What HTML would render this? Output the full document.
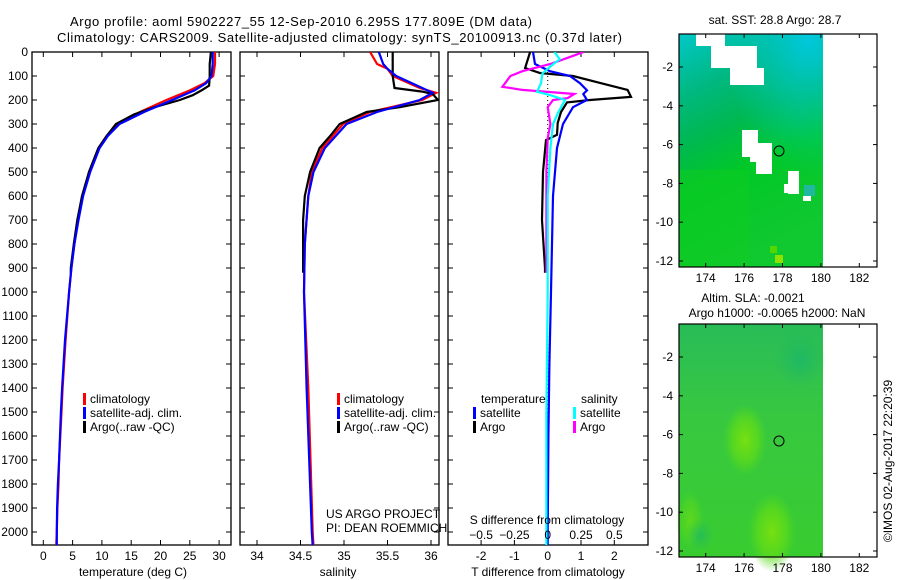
<!DOCTYPE html>
<html><head><meta charset="utf-8">
<style>
html,body{margin:0;padding:0;background:#fff;}
svg{display:block;font-family:"Liberation Sans",Arial,sans-serif;}
text{fill:#000;}
</style></head>
<body>
<svg id="chart" width="900" height="580" viewBox="0 0 900 580" xmlns="http://www.w3.org/2000/svg">
<defs>
<linearGradient id="sstGrad" x1="0" y1="0" x2="0.3" y2="1">
<stop offset="0" stop-color="#00c8c8"/>
<stop offset="0.25" stop-color="#00b880"/>
<stop offset="0.45" stop-color="#00b850"/>
<stop offset="0.65" stop-color="#00c828"/>
<stop offset="1" stop-color="#10c830"/>
</linearGradient>
<radialGradient id="sstTopRight" cx="0.9" cy="0" r="0.6">
<stop offset="0" stop-color="#00c8e0"/>
<stop offset="1" stop-color="#00c8c0" stop-opacity="0"/>
</radialGradient>
<linearGradient id="slaGrad" x1="0" y1="0" x2="0" y2="1">
<stop offset="0" stop-color="#28bc58"/>
<stop offset="0.4" stop-color="#38c840"/>
<stop offset="1" stop-color="#38cc30"/>
</linearGradient>
<radialGradient id="slaHi1" cx="0.5" cy="0.5" r="0.5">
<stop offset="0" stop-color="#78e010"/>
<stop offset="0.6" stop-color="#60dc18" stop-opacity="0.7"/>
<stop offset="1" stop-color="#50d820" stop-opacity="0"/>
</radialGradient>
<radialGradient id="slaLo" cx="0.5" cy="0.5" r="0.5">
<stop offset="0" stop-color="#18b470"/>
<stop offset="1" stop-color="#20b860" stop-opacity="0"/>
</radialGradient>
<clipPath id="clipP1"><rect x="32" y="52" width="199" height="493"/></clipPath>
<clipPath id="clipP2"><rect x="240" y="52" width="199" height="493"/></clipPath>
<clipPath id="clipP3"><rect x="448" y="52" width="200" height="493"/></clipPath>
</defs>

<text x="70" y="26" font-size="13" textLength="462">Argo profile: aoml 5902227_55 12-Sep-2010 6.295S 177.809E (DM data)</text>
<text x="57" y="42" font-size="13" textLength="565">Climatology: CARS2009. Satellite-adjusted climatology: synTS_20100913.nc (0.37d later)</text>

<g id="panels"></g>

<g>
<text x="775" y="24" font-size="12" text-anchor="middle">sat. SST: 28.8 Argo: 28.7</text>
<rect x="679" y="34" width="144" height="233" fill="url(#sstGrad)"/>
<rect x="679" y="34" width="144" height="233" fill="url(#sstTopRight)"/>
<rect x="679" y="170" width="70" height="97" fill="#10cc20" opacity="0.5"/>
<rect x="775" y="255" width="8" height="8" fill="#90e000"/>
<rect x="770" y="246" width="7" height="7" fill="#50d800"/>
<g fill="#fff">
<rect x="696" y="34" width="20" height="12"/>
<rect x="711" y="34" width="14" height="34"/>
<rect x="725" y="46" width="32" height="22"/>
<rect x="730" y="68" width="34" height="17"/>
<rect x="742" y="130" width="16" height="27"/>
<rect x="750" y="143" width="22" height="19"/>
<rect x="756" y="162" width="16" height="12"/>
<rect x="788" y="171" width="11" height="23"/>
<rect x="784" y="184" width="8" height="9"/>
<rect x="803" y="196" width="8" height="5"/>
</g>
<rect x="804" y="185" width="11" height="11" fill="#20b8a0"/>
<circle cx="779" cy="151" r="5" fill="none" stroke="#000" stroke-width="1"/>
</g>

<g>
<text x="753" y="302" font-size="12" text-anchor="middle">Altim. SLA: -0.0021</text>
<text x="777" y="317" font-size="12" text-anchor="middle">Argo h1000: -0.0065 h2000: NaN</text>
<rect x="679" y="324" width="144" height="233" fill="url(#slaGrad)"/>
<ellipse cx="745" cy="440" rx="22" ry="36" fill="url(#slaHi1)"/>
<ellipse cx="772" cy="532" rx="24" ry="40" fill="url(#slaHi1)"/>
<ellipse cx="690" cy="520" rx="14" ry="30" fill="url(#slaHi1)" opacity="0.6"/>
<ellipse cx="800" cy="360" rx="26" ry="28" fill="url(#slaLo)" opacity="0.7"/>
<ellipse cx="700" cy="535" rx="14" ry="16" fill="url(#slaLo)" opacity="0.6"/>
<circle cx="779" cy="441" r="5" fill="none" stroke="#000" stroke-width="1"/>
</g>
<g id="maps"></g>

<text transform="translate(892,461) rotate(-90)" font-size="12" text-anchor="middle">©IMOS 02-Aug-2017 22:20:39</text>

<script>
const depthTicks = [0,100,200,300,400,500,600,700,800,900,1000,1100,1200,1300,1400,1500,1600,1700,1800,1900,2000];

const tempDepthClim = [0,50,100,130,160,200,250,300,350,400,500,600,700,800,900,1000,1200,1400,1500,1600,1700,1800,1900,2000,2060];
const tempClim      = [29.3,29.3,29.0,27.5,25.0,21.0,16.5,12.6,10.8,9.4,7.8,6.7,5.9,5.3,4.8,4.4,3.8,3.3,3.1,2.9,2.7,2.6,2.4,2.3,2.2];
const tempSat       = [28.9,28.9,28.7,27.8,25.8,22.0,17.2,13.0,11.0,9.6,8.0,6.8,6.0,5.3,4.8,4.4,3.7,3.2,3.0,2.85,2.7,2.5,2.35,2.3,2.3];
const tempDepthArgo = [0,50,100,140,160,180,200,230,260,300,350,400,500,600,700,800,900,920];
const tempArgo      = [28.6,28.4,28.4,28.3,27.0,25.5,23.3,19.0,15.5,12.4,10.8,9.4,7.8,6.6,5.8,5.2,4.7,4.7];

const salDepthClim = [0,50,70,100,150,170,200,250,300,400,500,600,800,1000,1400,2000,2060];
const salClim      = [35.3,35.38,35.5,35.56,35.87,36.06,35.9,35.3,34.99,34.75,34.63,34.59,34.55,34.54,34.59,34.64,34.65];
const salSat       = [35.4,35.45,35.5,35.6,35.9,36.02,35.87,35.38,35.03,34.78,34.65,34.59,34.55,34.54,34.57,34.63,34.64];
const salDepthArgo = [0,50,100,150,165,175,200,230,250,300,350,400,500,600,700,800,900,920];
const salArgo      = [35.56,35.56,35.56,35.58,35.9,36.02,36.08,35.64,35.26,34.95,34.84,34.72,34.61,34.55,34.53,34.53,34.53,34.53];

const dTDepthArgo = [0,67,88,100,130,158,187,200,210,250,296,345,367,500,700,900,920];
const dTArgo      = [-0.53,-0.68,-0.23,0.76,1.6,2.4,2.5,1.27,0.58,0.4,0.3,0.28,-0.05,-0.14,-0.17,-0.08,-0.08];
const dTDepthSat  = [0,50,80,100,130,160,175,200,230,300,400,600,800,1000,1300,1600,2000,2060];
const dTSat       = [-0.44,-0.38,0.07,0.67,0.97,1.18,1.07,1.18,0.76,0.46,0.28,0.16,0.13,0.1,0.05,0.02,0.0,0.0];
const dSDepthArgo = [0,20,50,80,100,145,158,175,192,200,230,300,360,500,700,900,920];
const dSArgo      = [0.27,0.17,0.02,-0.19,-0.28,-0.34,-0.19,0.2,0.15,0.04,0.0,0.02,0.0,-0.01,-0.01,-0.01,-0.01];
const dSDepthSat  = [0,30,60,90,130,166,180,200,250,300,400,600,1000,1500,2060];
const dSSat       = [0.05,0.09,0.02,-0.04,-0.05,-0.08,0.02,0.13,0.08,0.04,0.02,0.0,0.0,-0.01,-0.01];

const tempTicks = [0,5,10,15,20,25,30];
const salTicks = [34,34.5,35,35.5,36];
const dTTicks = [-2,-1,0,1,2];
const dSTicks = [-0.5,-0.25,0,0.25,0.5];
const lonTicks = [174,176,178,180,182];
const latTicks = [-2,-4,-6,-8,-10,-12];

const NS = "http://www.w3.org/2000/svg";
const yDepth = d => 52 + d * 0.24;
const xTemp = t => 43.3 + t * 5.86;
const xSal = s => 257 + (s - 34) * 87;
const xDT = v => 547.7 + v * 33.3;
const xDS = v => 547.7 + v * 133.3;
const xLon = lon => 705.7 + (lon - 174) * 19.2;
const yLat1 = lat => 67 + (-2 - lat) * 19.4;
const yLat2 = lat => 357 + (-2 - lat) * 19.4;

const panelsG = document.getElementById('panels');
const mapsG = document.getElementById('maps');
function mk(tag, attrs, parent){
  const e = document.createElementNS(NS, tag);
  for (const k in attrs) e.setAttribute(k, attrs[k]);
  (parent||panelsG).appendChild(e);
  return e;
}

depthTicks.forEach(d=>{
  const t = mk('text',{x:28,y:yDepth(d)+4,'font-size':12,'text-anchor':'end'});
  
  
  t.textContent = d;
});

const panels = [
  {x0:32,x1:231,name:'temperature-panel',clip:'clipP1',xf:xTemp,ticks:tempTicks,label:'temperature (deg C)',lx:133},
  {x0:240,x1:439,name:'salinity-panel',clip:'clipP2',xf:xSal,ticks:salTicks,label:'salinity',lx:338},
  {x0:448,x1:648,name:'difference-panel',clip:'clipP3',xf:xDT,ticks:dTTicks,label:'T difference from climatology',lx:548}
];
panels.forEach(p=>{
  const g = mk('g',{});
  
  
  const r = mk('rect',{x:p.x0,y:52,width:p.x1-p.x0,height:493,fill:'none',stroke:'#000','stroke-width':1.3},g);
  
  
  depthTicks.forEach(d=>{
    const y = yDepth(d);
    mk('line',{x1:p.x0,x2:p.x0+5,y1:y,y2:y,stroke:'#000'},g);
    mk('line',{x1:p.x1-5,x2:p.x1,y1:y,y2:y,stroke:'#000'},g);
  });
  p.ticks.forEach(v=>{
    const x = p.xf(v);
    mk('line',{x1:x,x2:x,y1:52,y2:57,stroke:'#000'},g);
    mk('line',{x1:x,x2:x,y1:540,y2:545,stroke:'#000'},g);
    const t = mk('text',{x:x,y:560,'font-size':12,'text-anchor':'middle'},g);
    
    
    t.textContent = v;
  });
  const xl = mk('text',{x:p.lx,y:576,'font-size':12,'text-anchor':'middle'},g);
  
  
  xl.textContent = p.label;
});

const zl = mk('line',{x1:xDT(0),x2:xDT(0),y1:52,y2:545,stroke:'#000','stroke-dasharray':'1,3'});



function series(depths, vals, xf, color, clip, name){
  const pts = depths.map((d,i)=> xf(vals[i]).toFixed(1)+','+yDepth(d).toFixed(1)).join(' ');
  const pl = mk('polyline',{points:pts,fill:'none',stroke:color,'stroke-width':2.2,'clip-path':'url(#'+clip+')'});
  
  
}
series(tempDepthClim,tempClim,xTemp,'#ff0000','clipP1','temp-climatology-line');
series(tempDepthArgo,tempArgo,xTemp,'#000000','clipP1','temp-argo-line');
series(tempDepthClim,tempSat,xTemp,'#0000ff','clipP1','temp-satellite-line');
series(salDepthClim,salClim,xSal,'#ff0000','clipP2','sal-climatology-line');
series(salDepthArgo,salArgo,xSal,'#000000','clipP2','sal-argo-line');
series(salDepthClim,salSat,xSal,'#0000ff','clipP2','sal-satellite-line');
series(dTDepthArgo,dTArgo,xDT,'#000000','clipP3','t-diff-argo-line');
series(dTDepthSat,dTSat,xDT,'#0000ff','clipP3','t-diff-satellite-line');
series(dSDepthArgo,dSArgo,xDS,'#ff00ff','clipP3','s-diff-argo-line');
series(dSDepthSat,dSSat,xDS,'#00ffff','clipP3','s-diff-satellite-line');

function legend(x,y,color,label){
  const r = mk('rect',{x:x,y:y-10,width:3,height:12,fill:color});
  
  
  const t = mk('text',{x:x+7,y:y,'font-size':12});
  
  
  t.textContent = label;
}
function txt(x,y,s,name,anchor){
  const t = mk('text',{x:x,y:y,'font-size':12,'text-anchor':anchor||'start'});
  
  
  t.textContent = s;
}
legend(83,403,'#ff0000','climatology');
legend(83,417,'#0000ff','satellite-adj. clim.');
legend(83,431,'#000000','Argo(..raw -QC)');
legend(337,403,'#ff0000','climatology');
legend(337,417,'#0000ff','satellite-adj. clim.');
legend(337,431,'#000000','Argo(..raw -QC)');
txt(481,403,'temperature','legend-title-temperature');
txt(581,403,'salinity','legend-title-salinity');
legend(473,417,'#0000ff','satellite');
legend(473,431,'#000000','Argo');
legend(573,417,'#00ffff','satellite');
legend(573,431,'#ff00ff','Argo');
txt(326,518,'US ARGO PROJECT','project-label');
txt(326,532,'PI: DEAN ROEMMICH','pi-label');
txt(547,524,'S difference from climatology','s-diff-axis-title','middle');
dSTicks.forEach(v=>{
  txt(xDS(v),539,v===0?'0':String(v).replace('-','−'),'s-diff-tick-label','middle');
});

function mapAxes(y0,y1,yf,name){
  const g = mk('g',{},mapsG);
  
  
  mk('rect',{x:679,y:y0,width:198,height:y1-y0,fill:'none',stroke:'#000','stroke-width':1.2},g);
  lonTicks.forEach(l=>{
    const x = xLon(l);
    mk('line',{x1:x,x2:x,y1:y0,y2:y0+4,stroke:'#000'},g);
    mk('line',{x1:x,x2:x,y1:y1-4,y2:y1,stroke:'#000'},g);
    const t = mk('text',{x:x,y:y1+15,'font-size':12,'text-anchor':'middle'},g);
    
    
    t.textContent = l;
  });
  latTicks.forEach(l=>{
    const y = yf(l);
    mk('line',{x1:679,x2:683,y1:y,y2:y,stroke:'#000'},g);
    mk('line',{x1:873,x2:877,y1:y,y2:y,stroke:'#000'},g);
    const t = mk('text',{x:673,y:y+4,'font-size':12,'text-anchor':'end'},g);
    
    
    t.textContent = l;
  });
}
mapAxes(34,267,yLat1,'sst-map-axes');
mapAxes(324,557,yLat2,'sla-map-axes');
</script>
</svg>
</body></html>
